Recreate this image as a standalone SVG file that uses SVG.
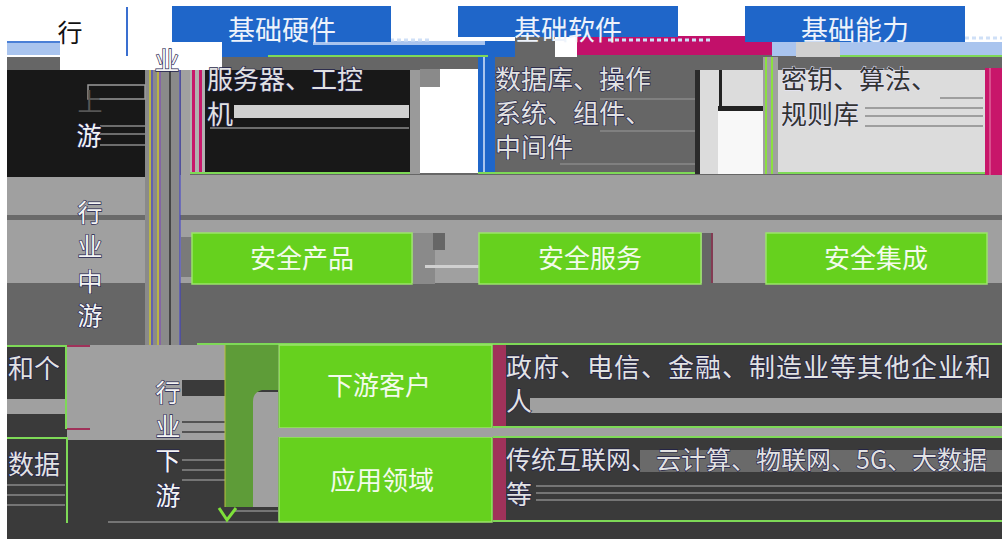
<svg xmlns="http://www.w3.org/2000/svg" width="1002" height="539" viewBox="0 0 1002 539">
<style>
 text{font-family:"Noto Sans CJK SC","Liberation Sans",sans-serif;}
 .hdr{fill:#1f66c9}
 .ht{fill:#eef3fb;font-size:27px;text-anchor:middle}
 .gb{fill:#66d11e;stroke:#9be36a;stroke-width:1.5}
 .gt{fill:#f3fbec;font-size:26px;text-anchor:middle}
 .vt{font-size:25px;fill:#f4f4f4;stroke:#22224e;stroke-width:1.3;paint-order:stroke;text-anchor:middle}
 .bt{font-size:26px;fill:#e2e2e2;stroke:#1e1e48;stroke-width:1.3;paint-order:stroke}
 .ln{stroke:#8a8a8a;stroke-width:1.5}
 .gl{fill:#7ed957}
 .cr{fill:#c8166a}
</style>

<!-- base backgrounds -->
<rect width="1002" height="539" fill="#ffffff"/>
<rect x="7" y="57" width="53" height="13" fill="#666"/>
<rect x="7" y="41" width="53" height="2" fill="#4a7fd6"/>
<rect x="7" y="43" width="53" height="12" fill="#a9c4ee"/>
<rect x="222" y="55" width="780" height="15" fill="#666"/>
<rect x="7" y="70" width="995" height="105" fill="#666"/>
<rect x="7" y="175" width="995" height="108" fill="#a0a0a0"/>
<rect x="7" y="215" width="995" height="5" fill="#6a6a6a"/>
<rect x="7" y="283" width="995" height="62" fill="#666"/>
<rect x="7" y="345" width="995" height="194" fill="#3a3a3a"/>

<!-- top glitch bands -->
<rect x="222" y="41" width="293" height="16" fill="#1f66c9"/>
<rect x="313" y="41" width="172" height="4" fill="#a9c4ee"/>
<line x1="320" y1="40" x2="430" y2="40" stroke="#cfe0f7" stroke-width="3" stroke-dasharray="4 3"/>
<rect x="268" y="55" width="220" height="2" class="gl"/>
<rect x="515" y="37" width="40" height="20" fill="#666"/>
<rect x="555" y="37" width="22" height="20" fill="#fff"/>
<rect x="577" y="36" width="195" height="19" fill="#c2106a"/>
<line x1="608" y1="40" x2="712" y2="40" stroke="#cfe0f7" stroke-width="3" stroke-dasharray="4 3"/>
<rect x="772" y="42" width="24" height="14" fill="#a9c4ee"/>
<rect x="796" y="37" width="44" height="20" fill="#d0d0d0"/>
<rect x="805" y="35" width="35" height="4" fill="#222"/>
<rect x="840" y="42" width="162" height="13" fill="#a9c4ee"/>
<line x1="895" y1="38" x2="1002" y2="38" stroke="#cfe0f7" stroke-width="3" stroke-dasharray="4 3"/>
<rect x="840" y="55" width="162" height="2" class="gl"/>
<line x1="127" y1="7" x2="127" y2="56" stroke="#3a6fd0" stroke-width="2"/>

<!-- vertical divider stripes -->
<rect x="145" y="70" width="35" height="275" fill="#8a8a8a"/>
<line x1="150" y1="70" x2="150" y2="345" stroke="#e8e000" stroke-width="1"/>
<line x1="152" y1="70" x2="152" y2="345" stroke="#3a3ad0" stroke-width="1"/>
<line x1="158" y1="70" x2="158" y2="345" stroke="#e8e000" stroke-width="1"/>
<line x1="160" y1="70" x2="160" y2="345" stroke="#8040c0" stroke-width="1"/>
<line x1="170" y1="70" x2="170" y2="345" stroke="#444" stroke-width="2"/>
<line x1="180" y1="70" x2="180" y2="345" stroke="#3a3ad0" stroke-width="1"/>
<rect x="181" y="70" width="9" height="105" fill="#a0a0a0"/>
<rect x="181" y="237" width="11" height="40" fill="#7a7a7a"/>

<!-- 行业上游 -->
<g id="tier-up">
 <rect x="7" y="70" width="138" height="107" fill="#181818"/>
 <rect x="88" y="85" width="57" height="14" fill="none" stroke="#9a9a9a" stroke-width="1.5"/>
 <line x1="100" y1="126" x2="145" y2="126" class="ln"/>
 <line x1="100" y1="134" x2="145" y2="134" class="ln"/>
 <line x1="100" y1="145" x2="145" y2="145" class="ln"/>
 <text x="70" y="42" class="vt" style="fill:#111;stroke:none">行</text>
 <text x="167" y="70" class="vt">业</text>
 <text x="90" y="111" class="vt" style="fill:#555;stroke:none">上</text>
 <text x="89" y="145" class="vt">游</text>
</g>

<!-- 基础硬件 -->
<g id="hw">
 <rect x="172" y="6" width="219" height="36" class="hdr"/>
 <text x="282" y="40" class="ht">基础硬件</text>
 <rect x="190" y="70" width="15" height="104" fill="#b0b0b0"/>
 <rect x="192" y="70" width="3" height="104" class="cr"/>
 <rect x="199" y="70" width="3" height="104" class="cr"/>
 <rect x="205" y="70" width="205" height="102" fill="#181818"/>
 <rect x="234" y="105" width="175" height="13" fill="#d0d0d0"/>
 <line x1="210" y1="128" x2="409" y2="128" class="ln"/>
 <rect x="190" y="172" width="220" height="2" class="gl"/>
 <text class="bt"><tspan x="207" y="89">服务器、工控</tspan><tspan x="207" y="124">机</tspan></text>
 <rect x="410" y="70" width="10" height="104" fill="#9a9a9a"/>
 <rect x="420" y="69" width="58" height="104" fill="#ffffff"/>
 <rect x="420" y="69" width="20" height="18" fill="#8a8a8a"/>
</g>

<!-- 基础软件 -->
<g id="sw">
 <rect x="458" y="6" width="220" height="31" class="hdr"/>
 <text x="568" y="40" class="ht">基础软件</text>
 <rect x="478" y="57" width="17" height="116" fill="#1f66c9"/>
 <line x1="484" y1="57" x2="484" y2="173" stroke="#d8e4f8" stroke-width="1.5"/>
 <rect x="495" y="70" width="200" height="102" fill="#666"/>
 <line x1="600" y1="99" x2="695" y2="99" class="ln"/>
 <line x1="600" y1="131" x2="695" y2="131" class="ln"/>
 <line x1="560" y1="164" x2="695" y2="164" class="ln"/>
 <rect x="478" y="172" width="217" height="2" class="gl"/>
 <text class="bt"><tspan x="495" y="89">数据库、操作</tspan><tspan x="495" y="123">系统、组件、</tspan><tspan x="495" y="157">中间件</tspan></text>
 <rect x="695" y="70" width="5" height="104" fill="#2a2a2a"/>
 <rect x="700" y="70" width="63" height="104" fill="#dcdcdc"/>
 <rect x="718" y="106" width="45" height="68" fill="#f8f8f8"/>
 <rect x="718" y="106" width="45" height="5" fill="#222"/>
 <rect x="719" y="70" width="3" height="40" fill="#222"/>
 <rect x="763" y="57" width="15" height="117" fill="#a0a0a0"/>
 <line x1="766" y1="57" x2="766" y2="174" stroke="#8be040" stroke-width="2"/>
 <line x1="772" y1="57" x2="772" y2="174" stroke="#8be040" stroke-width="2"/>
</g>

<!-- 基础能力 -->
<g id="cap">
 <rect x="745" y="6" width="220" height="36" class="hdr"/>
 <text x="855" y="40" class="ht">基础能力</text>
 <rect x="778" y="70" width="207" height="102" fill="#dcdcdc"/>
 <line x1="940" y1="98" x2="983" y2="98" class="ln"/>
 <line x1="865" y1="108" x2="983" y2="108" class="ln"/>
 <line x1="865" y1="116" x2="983" y2="116" class="ln"/>
 <line x1="865" y1="126" x2="983" y2="126" class="ln"/>
 <rect x="778" y="172" width="207" height="2" class="gl"/>
 <text class="bt" style="fill:#333;stroke:#e8e8ff;stroke-width:1"><tspan x="781" y="89">密钥、算法、</tspan><tspan x="781" y="124">规则库</tspan></text>
 <rect x="985" y="68" width="17" height="107" class="cr"/>
 <line x1="990" y1="68" x2="990" y2="175" stroke="#e88ab0" stroke-width="1"/>
</g>

<!-- 行业中游 -->
<g id="tier-mid">
 <text x="90" y="222" class="vt">行</text>
 <text x="90" y="256" class="vt">业</text>
 <text x="90" y="291" class="vt">中</text>
 <text x="90" y="325" class="vt">游</text>
</g>

<g id="prod">
 <rect x="192" y="233" width="220" height="51" class="gb"/>
 <text x="302" y="268" class="gt">安全产品</text>
</g>
<rect x="413" y="233" width="22" height="51" fill="#8a8a8a"/>
<rect x="433" y="233" width="12" height="17" fill="#666"/>
<rect x="425" y="265" width="54" height="3" fill="#d0d0d0"/>
<g id="svc">
 <rect x="479" y="233" width="222" height="51" class="gb"/>
 <text x="590" y="268" class="gt">安全服务</text>
</g>
<rect x="702" y="233" width="11" height="50" fill="#666"/>
<line x1="712" y1="233" x2="712" y2="283" stroke="#a01040" stroke-width="1"/>
<g id="integ">
 <rect x="766" y="233" width="221" height="51" class="gb"/>
 <text x="876" y="268" class="gt">安全集成</text>
</g>
<rect x="197" y="343" width="805" height="2" class="gl"/>

<!-- 行业下游 -->
<g id="tier-down">
 <rect x="67" y="345" width="158" height="95" fill="#a0a0a0"/>
 <rect x="67" y="345" width="23" height="2" fill="#a0325a"/>
 <rect x="67" y="428" width="23" height="2" fill="#a0325a"/>
 <rect x="182" y="380" width="43" height="16" fill="#3a3a3a"/>
 <line x1="182" y1="422" x2="225" y2="422" stroke="#3a3a3a" stroke-width="1.5"/>
 <line x1="182" y1="432" x2="225" y2="432" stroke="#3a3a3a" stroke-width="1.5"/>
 <line x1="182" y1="460" x2="225" y2="460" class="ln"/>
 <line x1="182" y1="470" x2="225" y2="470" class="ln"/>
 <line x1="182" y1="480" x2="225" y2="480" class="ln"/>
 <line x1="108" y1="522" x2="278" y2="522" class="ln"/>
 <text x="168" y="402" class="vt">行</text>
 <text x="168" y="436" class="vt">业</text>
 <text x="168" y="470" class="vt">下</text>
 <text x="168" y="505" class="vt">游</text>
</g>

<!-- left wrapped fragments -->
<g id="frag1">
 <rect x="7" y="345" width="59" height="84" fill="#3a3a3a"/>
 <rect x="7" y="399" width="58" height="15" fill="#a0a0a0"/>
 <rect x="65" y="345" width="2" height="84" class="gl"/>
 <rect x="7" y="345" width="60" height="2" class="gl"/>
 <text x="8" y="378" class="bt">和个</text>
</g>
<g id="frag2">
 <rect x="7" y="437" width="60" height="86" fill="#3a3a3a"/>
 <line x1="7" y1="485" x2="65" y2="485" class="ln"/>
 <line x1="7" y1="495" x2="65" y2="495" class="ln"/>
 <line x1="7" y1="505" x2="65" y2="505" class="ln"/>
 <rect x="66" y="437" width="2" height="86" class="gl"/>
 <rect x="7" y="437" width="60" height="2" class="gl"/>
 <text x="8" y="474" class="bt">数据</text>
</g>

<!-- connectors -->
<g id="connectors">
 <rect x="253" y="392" width="25" height="115" fill="#a0a0a0"/>
 <path d="M225 345 H278 V390 H262 Q253 392 253 402 V507 H225 Z" fill="#5e9c38"/>
 <line x1="225" y1="345" x2="225" y2="507" stroke="#b8c040" stroke-width="1"/>
 <rect x="235" y="507" width="43" height="12" fill="#3a3a3a"/>
 <line x1="235" y1="511" x2="278" y2="511" class="ln"/>
 <polyline points="219,508 227,520 236,508" fill="none" stroke="#7ee03a" stroke-width="3"/>
</g>

<g id="cust">
 <rect x="279" y="345" width="213" height="83" class="gb"/>
 <text x="379" y="395" class="gt">下游客户</text>
</g>
<g id="app">
 <rect x="279" y="437" width="213" height="85" class="gb"/>
 <text x="382" y="490" class="gt">应用领域</text>
</g>
<rect x="278" y="428" width="724" height="9" fill="#a0a0a0"/>

<g id="cust-desc">
 <rect x="493" y="345" width="509" height="83" fill="#3a3a3a"/>
 <rect x="493" y="345" width="13" height="83" fill="#a0325a"/>
 <rect x="530" y="398" width="472" height="15" fill="#a0a0a0"/>
 <rect x="493" y="343" width="509" height="2" class="gl"/>
 <rect x="493" y="426" width="509" height="2" class="gl"/>
 <text class="bt"><tspan x="506" y="377" letter-spacing="1">政府、电信、金融、制造业等其他企业和</tspan><tspan x="506" y="411">人</tspan></text>
</g>
<g id="app-desc">
 <rect x="493" y="437" width="509" height="85" fill="#3a3a3a"/>
 <rect x="493" y="437" width="13" height="85" fill="#a0325a"/>
 <rect x="640" y="450" width="362" height="22" fill="#8a8a8a" opacity="0.6"/>
 <line x1="536" y1="486" x2="1002" y2="486" class="ln"/>
 <line x1="536" y1="493" x2="1002" y2="493" class="ln"/>
 <line x1="536" y1="500" x2="1002" y2="500" class="ln"/>
 <rect x="493" y="436" width="509" height="2" class="gl"/>
 <rect x="493" y="520" width="509" height="2" class="gl"/>
 <text class="bt"><tspan x="506" y="469" style="font-size:25px">传统互联网、云计算、物联网、5G、大数据</tspan><tspan x="506" y="504">等</tspan></text>
</g>
</svg>
